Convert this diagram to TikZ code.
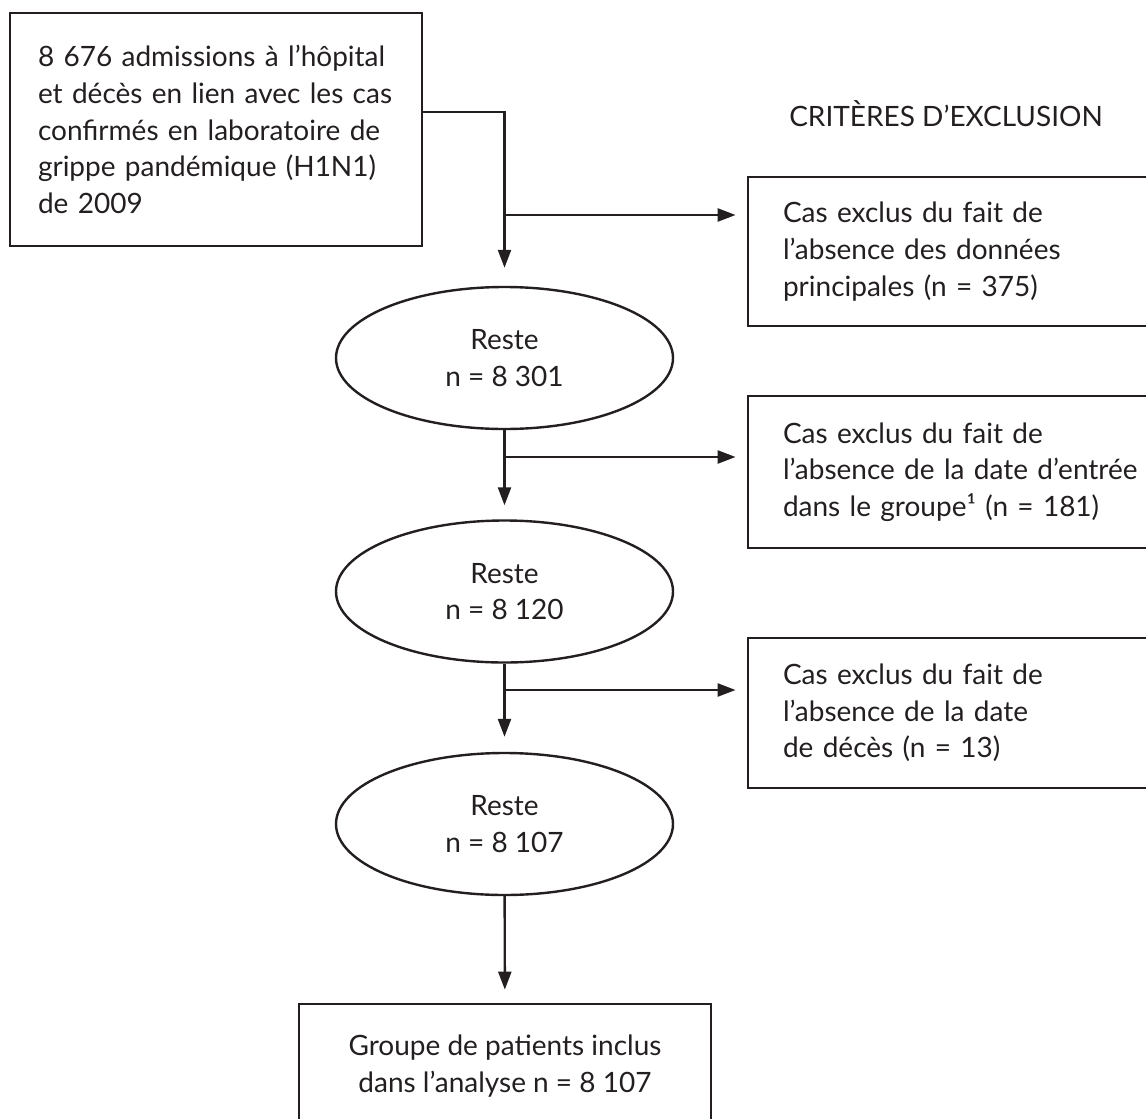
\documentclass[tikz,border=0pt]{standalone}
\usepackage{fontspec}
\setmainfont{Lato}
\usetikzlibrary{arrows.meta,shapes.geometric}
\definecolor{ink}{HTML}{231F20}
\newcommand{\flowfont}{\fontsize{28}{36.7}\selectfont}

\begin{document}
\begin{tikzpicture}[x=1pt,y=-1pt,
    box/.style={draw=ink,line width=2.8pt,rectangle,inner sep=0pt,
      text=ink,font=\flowfont},
    exbox/.style={box,minimum width=450pt,text width=380pt,align=left},
    rest/.style={draw=ink,line width=2.4pt,ellipse,inner sep=0pt,
      minimum width=337pt,minimum height=142pt,text=ink,font=\flowfont,
      align=center},
    arr/.style={draw=ink,line width=2.4pt,
      -{Triangle[length=18pt,width=13pt]}}]
  \useasboundingbox (0,0) rectangle (1146,1119);
  \node[box,minimum width=412pt,minimum height=233pt,text width=356pt,
    align=left] (adm) at (216,129.5)
    {8 676 admissions à l’hôpital\\ et décès en lien avec les cas\\
     confirmés en laboratoire de\\ grippe pandémique (H1N1)\\ de 2009};
  \node[text=ink,font=\flowfont] (crit) at (946,114) {CRITÈRES D’EXCLUSION};
  \node[exbox,minimum height=149pt] (ex1) at (973,251.5)
    {Cas exclus du fait de\\ l’absence des données\\ principales (n = 375)};
  \node[exbox,minimum height=152pt] (ex2) at (973,472)
    {Cas exclus du fait de\\ l’absence de la date d’entrée\\
     dans le groupe¹ (n = 181)};
  \node[exbox,minimum height=150pt] (ex3) at (973,713)
    {Cas exclus du fait de\\ l’absence de la date\\ de décès (n = 13)};
  \node[rest] (r1) at (504.5,358) {Reste\\ n = 8 301};
  \node[rest] (r2) at (504.5,591.5) {Reste\\ n = 8 120};
  \node[rest] (r3) at (504.5,824) {Reste\\ n = 8 107};
  \node[box,minimum width=412pt,minimum height=124pt,align=center] (grp)
    at (505,1066) {Groupe de patients inclus\\ dans l’analyse n = 8 107};
  % branch points on the main line
  \coordinate (b1) at (504.5,215);
  \coordinate (b2) at (504.5,457);
  \coordinate (b3) at (504.5,690);
  \draw[arr,shorten >=18pt] ([yshift=17.5pt]adm.east) -| (r1);
  \draw[arr,shorten >=11pt] (b1) -- (b1 -| ex1.west);
  \draw[arr,shorten >=14pt] (r1) -- (r2);
  \draw[arr,shorten >=11pt] (b2) -- (b2 -| ex2.west);
  \draw[arr,shorten >=15pt] (r2) -- (r3);
  \draw[arr,shorten >=11pt] (b3) -- (b3 -| ex3.west);
  \draw[arr,shorten >=13pt] (r3) -- (grp);
\end{tikzpicture}
\end{document}
